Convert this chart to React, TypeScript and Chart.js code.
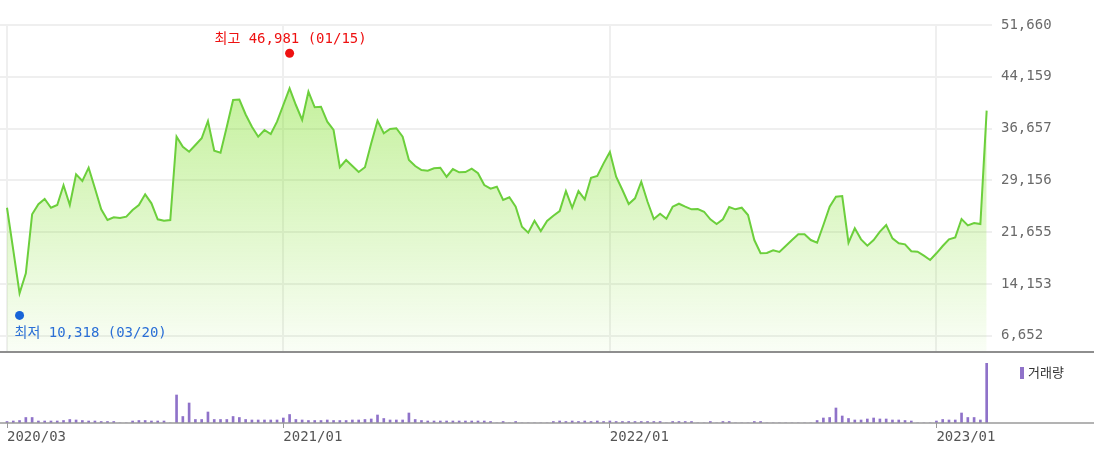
import React, { useEffect, useRef } from "react";
import { Chart, registerables } from "chart.js";

Chart.register(...registerables);

// Weekly closing prices, 2020-03-06 .. 2023-03-03
const prices = [
  25190, 19060, 12790, 15690, 24240, 25690, 26450, 25190, 25580, 28440,
  25580, 30030, 29060, 30990, 28000, 24960, 23410, 23800, 23700, 23890,
  24860, 25580, 27130, 25830, 23510, 23310, 23410, 35480, 34030, 33310,
  34280, 35250, 37750, 33450, 33160, 36930, 40800, 40850, 38700, 36930,
  35480, 36450, 35870, 37650, 40070, 42490, 40070, 37900, 42000, 39740,
  39820, 37650, 36450, 31050, 32100, 31230, 30360, 31050, 34520, 37800,
  35970, 36590, 36700, 35480, 32100, 31230, 30650, 30550, 30900, 30990,
  29680, 30800, 30320, 30360, 30840, 30180, 28480, 27950, 28240, 26310,
  26700, 25340, 22440, 21570, 23310, 21820, 23270, 24030, 24710, 27610,
  25190, 27610, 26410, 29540, 29790, 31620, 33260, 29680, 27760, 25730,
  26550, 28960, 26060, 23560, 24320, 23600, 25340, 25770, 25340, 24960,
  25000, 24610, 23510, 22830, 23510, 25290, 24960, 25190, 24140, 20510,
  18590, 18630, 19020, 18780, 19640, 20510, 21340, 21340, 20510, 20120,
  22690, 25340, 26790, 26890, 20120, 22210, 20610, 19690, 20510, 21720,
  22690, 20760, 20040, 19890, 18880, 18820, 18240, 17620, 18590, 19640,
  20610, 20900, 23560, 22640, 22980, 22830, 39250,
];

// Weekly volume (thousand shares)
const volumes = [
  1.5, 2, 2.5, 5.5, 5.5, 2, 2, 2, 2, 2.5,
  3.5, 3, 2.5, 2, 2, 1.5, 1.5, 1.5, 0, 0,
  2, 2.5, 2.5, 2, 2, 2, 0, 28, 6.5, 20,
  3.5, 3.5, 11, 3.5, 3.5, 3.5, 6.5, 5.5, 3.5, 3,
  3, 3, 3, 3, 5, 8.5, 3.5, 3, 2.5, 2.5,
  2.5, 3, 2.5, 2.5, 2.5, 3, 3, 3.5, 4, 8,
  4.5, 3, 3, 3, 10, 3.5, 2.5, 2, 2, 2,
  2, 2, 2, 2, 2, 2, 2, 1.5, 0, 1.5,
  0, 1.5, 0, 0, 0, 0, 0, 1.5, 2, 1.5,
  2, 1.5, 2, 1.5, 2, 1.5, 2, 1.5, 1.5, 1.5,
  1.5, 1.5, 1.5, 1.5, 1.5, 0, 1.5, 1.5, 1.5, 1.5,
  0, 0, 1.5, 0, 1.5, 1.5, 0, 0, 0, 1.5,
  1.5, 0, 0, 0, 0, 0, 0, 0, 0, 2.5,
  5, 5.5, 15, 7, 4.5, 3, 3, 4, 5, 4,
  4, 3, 3, 2.5, 2, 0, 0, 0, 2, 3.5,
  3, 3, 10, 5.5, 5.5, 3, 60,
];

const xTickIndex = [0, 44, 96, 148];
const xTickLabels = ["2020/03", "2021/01", "2022/01", "2023/01"];
const yTickValues = [6652, 14153, 21655, 29156, 36657, 44159, 51660];
const yTickLabels = ["6,652", "14,153", "21,655", "29,156", "36,657", "44,159", "51,660"];

const highIndex = 45;
const highValue = 46981;
const highLabel = "최고 46,981 (01/15)";
const lowIndex = 2;
const lowValue = 10318;
const lowLabel = "최저 10,318 (03/20)";
const volumeLegend = "거래량";

const X_MIN = -1.115;
const X_MAX = 156.85;
const Y_MIN = 4436;
const Y_MAX = 51660;
const FONT = "'DejaVu Sans Mono', 'Noto Sans CJK KR', monospace";
const VOL_COLOR = "#8f72c9";

const markerPlugin = {
  id: "hiLoMarkers",
  afterDatasetsDraw(chart: any) {
    const { ctx, scales } = chart;
    const x = scales.x;
    const y = scales.y;
    ctx.save();
    ctx.font = `14px ${FONT}`;
    ctx.textBaseline = "alphabetic";
    const hx = x.getPixelForValue(highIndex);
    const hy = y.getPixelForValue(highValue) - 4;
    ctx.fillStyle = "#ee1111";
    ctx.beginPath();
    ctx.arc(hx, hy, 4.5, 0, Math.PI * 2);
    ctx.fill();
    ctx.textAlign = "center";
    ctx.fillText(highLabel, hx + 1, hy - 10);

    const lx = x.getPixelForValue(lowIndex);
    const ly = y.getPixelForValue(lowValue) + 5;
    ctx.fillStyle = "#1764d8";
    ctx.beginPath();
    ctx.arc(lx, ly, 4.5, 0, Math.PI * 2);
    ctx.fill();
    ctx.fillStyle = "#2a6fd6";
    ctx.textAlign = "left";
    ctx.fillText(lowLabel, lx - 5, ly + 22);
    ctx.restore();
  },
};

const baselinePlugin = {
  id: "volBaseline",
  afterDatasetsDraw(chart: any) {
    const { ctx, chartArea } = chart;
    ctx.save();
    ctx.strokeStyle = "#9a9a9a";
    ctx.lineWidth = 1.5;
    ctx.beginPath();
    ctx.moveTo(0, chartArea.bottom);
    ctx.lineTo(chart.width, chartArea.bottom);
    ctx.stroke();
    ctx.restore();
  },
};

export default function App() {
  const priceRef = useRef<HTMLCanvasElement>(null);
  const volRef = useRef<HTMLCanvasElement>(null);

  useEffect(() => {
    const idx = prices.map((_, i) => i);
    const priceChart = new Chart(priceRef.current!, {
      type: "line",
      data: {
        datasets: [
          {
            data: idx.map((i) => ({ x: i, y: prices[i] })),
            borderColor: "#6ccf3c",
            borderWidth: 2,
            pointRadius: 0,
            tension: 0,
            fill: "start",
            backgroundColor: (c: any) => {
              const { ctx, chartArea } = c.chart;
              if (!chartArea) return "rgba(119,222,26,0.3)";
              const g = ctx.createLinearGradient(0, chartArea.top, 0, chartArea.bottom);
              g.addColorStop(0, "rgba(119,222,26,0.52)");
              g.addColorStop(1, "rgba(119,222,26,0.04)");
              return g;
            },
          },
        ],
      },
      options: {
        animation: false,
        responsive: true,
        maintainAspectRatio: false,
        layout: { padding: { top: 25, left: 0, right: 0, bottom: 0 } },
        plugins: { legend: { display: false }, tooltip: { enabled: false } },
        scales: {
          x: {
            type: "linear",
            min: X_MIN,
            max: X_MAX,
            border: { display: false },
            grid: { color: "#efefef", lineWidth: 2, drawTicks: false },
            ticks: { display: false },
            afterBuildTicks: (s: any) => {
              s.ticks = xTickIndex.map((v) => ({ value: v }));
            },
            afterFit: (s: any) => {
              s.height = 0;
              s.paddingLeft = 0;
              s.paddingRight = 0;
            },
          },
          y: {
            position: "right",
            min: Y_MIN,
            max: Y_MAX,
            border: { display: false },
            grid: { color: "#efefef", lineWidth: 2, drawTicks: false },
            ticks: {
              padding: 9,
              color: "#6a6a6a",
              font: { family: FONT, size: 14 },
              callback: (v: any) => {
                const k = yTickValues.indexOf(v);
                return k >= 0 ? yTickLabels[k] : "";
              },
            },
            afterBuildTicks: (s: any) => {
              s.ticks = yTickValues.map((v) => ({ value: v }));
            },
            afterFit: (s: any) => {
              s.width = 102;
              s.paddingTop = 0;
              s.paddingBottom = 0;
            },
          },
        },
      },
      plugins: [markerPlugin],
    } as any);

    const volChart = new Chart(volRef.current!, {
      type: "bar",
      data: {
        datasets: [
          {
            data: idx.map((i) => ({ x: i, y: volumes[i] })),
            backgroundColor: VOL_COLOR,
            barThickness: 2,
          },
        ],
      },
      options: {
        animation: false,
        responsive: true,
        maintainAspectRatio: false,
        layout: { padding: { top: 10, left: 0, right: 0, bottom: 0 } },
        plugins: { legend: { display: false }, tooltip: { enabled: false } },
        scales: {
          x: {
            type: "linear",
            min: X_MIN,
            max: X_MAX,
            offset: false,
            border: { display: false },
            grid: {
              offset: false,
              drawOnChartArea: false,
              drawTicks: true,
              tickLength: 5,
              color: "#999999",
              lineWidth: 1,
            },
            ticks: {
              align: "start",
              padding: 1,
              autoSkip: false,
              maxRotation: 0,
              color: "#555555",
              font: { family: FONT, size: 14 },
              callback: (v: any) => {
                const k = xTickIndex.indexOf(v);
                return k >= 0 ? xTickLabels[k] : "";
              },
            },
            afterBuildTicks: (s: any) => {
              s.ticks = xTickIndex.map((v) => ({ value: v }));
            },
            afterFit: (s: any) => {
              s.height = 28;
              s.paddingLeft = 0;
              s.paddingRight = 0;
            },
          },
          y: {
            position: "right",
            min: 0,
            max: 60,
            border: { display: false },
            grid: { display: false },
            ticks: { display: false },
            afterFit: (s: any) => {
              s.width = 102;
              s.paddingTop = 0;
              s.paddingBottom = 0;
            },
          },
        },
      },
      plugins: [baselinePlugin],
    } as any);

    return () => {
      priceChart.destroy();
      volChart.destroy();
    };
  }, []);

  return (
    <div
      style={{
        position: "absolute",
        left: 0,
        top: 0,
        width: 1094,
        height: 451,
        background: "#ffffff",
        overflow: "hidden",
      }}
    >
      <div style={{ position: "absolute", left: 0, top: 0, width: 1094, height: 351 }}>
        <canvas ref={priceRef} />
      </div>
      <div
        style={{
          position: "absolute",
          left: 0,
          top: 351,
          width: 1094,
          height: 2,
          background: "#8e8e8e",
        }}
      />
      <div style={{ position: "absolute", left: 0, top: 353, width: 1094, height: 98 }}>
        <canvas ref={volRef} />
      </div>
      <div
        style={{
          position: "absolute",
          left: 1020,
          top: 367,
          width: 4,
          height: 12,
          background: VOL_COLOR,
        }}
      />
      <div
        style={{
          position: "absolute",
          left: 1028,
          top: 363,
          fontFamily: "'Noto Sans CJK KR', sans-serif",
          fontSize: 13,
          lineHeight: "18px",
          color: "#333333",
          whiteSpace: "nowrap",
        }}
      >
        {volumeLegend}
      </div>
    </div>
  );
}
